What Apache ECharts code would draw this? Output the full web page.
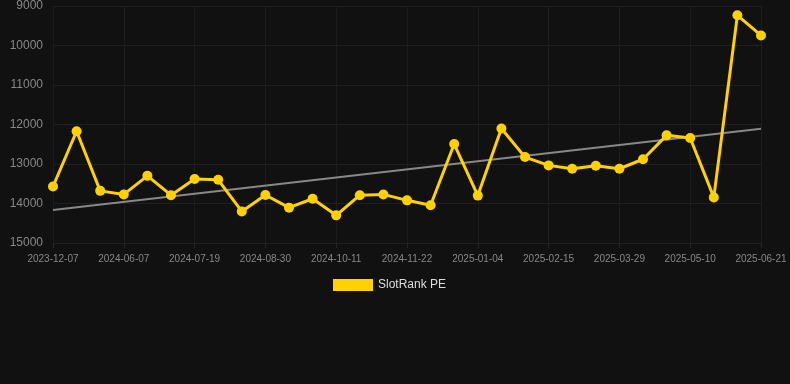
<!DOCTYPE html>
<html>
<head>
<meta charset="utf-8">
<script src="https://cdn.jsdelivr.net/npm/echarts@6/dist/echarts.min.js"></script>
<style>
  html, body { margin: 0; padding: 0; background: #111111; }
  #chart { width: 790px; height: 384px; }
</style>
</head>
<body>
<div id="chart"></div>
<script>
// dates every ~2 weeks, only every third one is labelled
const categories = [
  '2023-12-07', '2024-05-10', '2024-05-24', '2024-06-07', '2024-06-21', '2024-07-05',
  '2024-07-19', '2024-08-02', '2024-08-16', '2024-08-30', '2024-09-13', '2024-09-27',
  '2024-10-11', '2024-10-25', '2024-11-08', '2024-11-22', '2024-12-06', '2024-12-20',
  '2025-01-04', '2025-01-18', '2025-02-01', '2025-02-15', '2025-03-01', '2025-03-15',
  '2025-03-29', '2025-04-12', '2025-04-26', '2025-05-10', '2025-05-24', '2025-06-07',
  '2025-06-21'
];
const rankValues = [
  13570, 12170, 13680, 13770, 13300, 13790, 13380, 13400, 14200, 13785, 14105,
  13880, 14300, 13790, 13770, 13920, 14045, 12495, 13800, 12100, 12825, 13035,
  13120, 13045, 13120, 12880, 12275, 12340, 13845, 9235, 9745
];
// trend line read at its two ends
const trendValues = [14165, 12105];
const yTicks = [9000, 15000, 1000]; // min, max, step

const chart = echarts.init(document.getElementById('chart'));
chart.setOption({
  backgroundColor: '#111111',
  animation: false,
  grid: { left: 53, right: 29, top: 6, bottom: 141 },
  legend: {
    data: ['SlotRank PE'],
    top: 274,
    left: 328,
    icon: 'rect',
    itemWidth: 40,
    itemHeight: 12,
    itemGap: 10,
    textStyle: { color: '#dddddd', fontSize: 12 }
  },
  xAxis: {
    type: 'category',
    data: categories,
    boundaryGap: false,
    axisLine: { show: false },
    axisTick: { show: true, interval: 2, length: 5, lineStyle: { color: '#262626' } },
    axisLabel: { interval: 2, color: '#888888', fontSize: 10, margin: 11 },
    splitLine: { show: true, interval: 2, lineStyle: { color: '#1c1c1c' } }
  },
  yAxis: {
    type: 'value',
    inverse: true,
    min: yTicks[0],
    max: yTicks[1],
    interval: yTicks[2],
    axisLine: { show: false },
    axisTick: { show: false },
    axisLabel: { color: '#888888', fontSize: 12, margin: 10, formatter: (v) => String(v) },
    splitLine: { lineStyle: { color: '#1f1f1f' } }
  },
  series: [
    {
      name: 'SlotRank PE',
      type: 'line',
      data: rankValues,
      color: '#FFD100',
      symbol: 'circle',
      symbolSize: 10,
      lineStyle: { width: 3, color: '#FFD100' },
      itemStyle: { color: '#FFD100' },
      z: 3
    },
    {
      name: 'trend',
      type: 'line',
      data: [[categories[0], trendValues[0]], [categories[categories.length - 1], trendValues[1]]],
      symbol: 'none',
      lineStyle: { width: 2, color: '#888888' },
      z: 2
    }
  ]
});
</script>
</body>
</html>
